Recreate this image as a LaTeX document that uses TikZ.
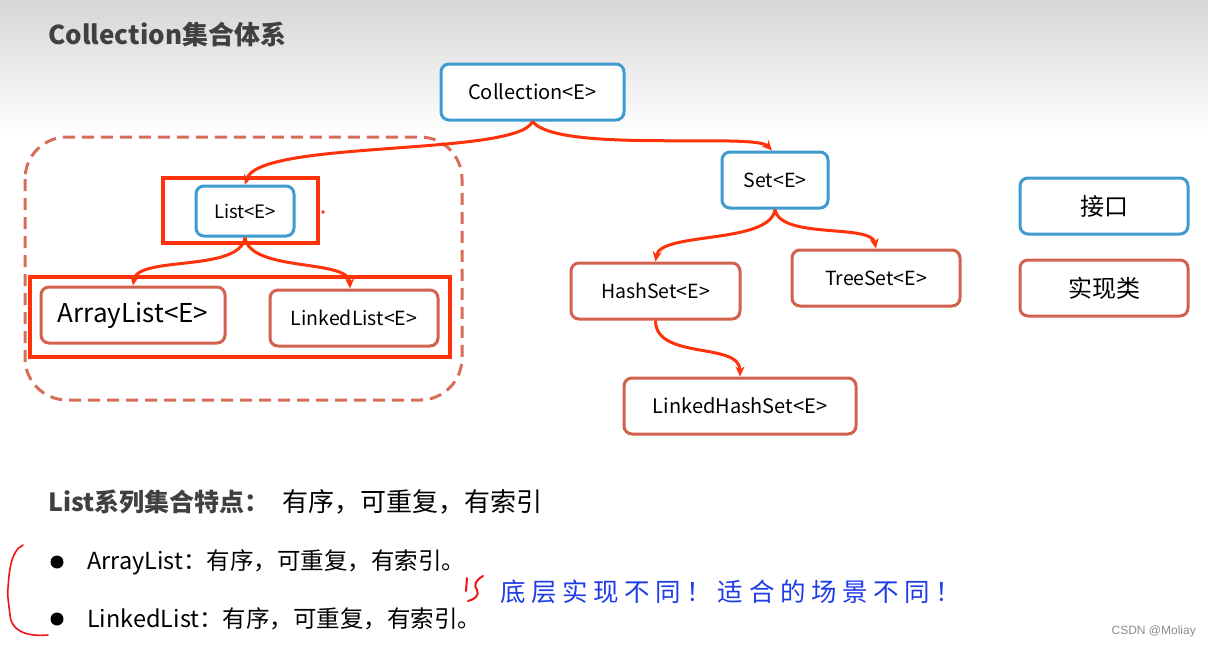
\documentclass[tikz,border=0pt]{standalone}
\usepackage{fontspec}
\setmainfont{Noto Sans CJK SC}
\newfontfamily\wmfont{Liberation Sans}
\usetikzlibrary{arrows.meta,calc}
\definecolor{ifblue}{RGB}{62,155,208}
\definecolor{imred}{RGB}{210,98,78}
\definecolor{dashred}{RGB}{215,110,90}
\definecolor{hlred}{RGB}{255,50,10}
\definecolor{titlegray}{RGB}{64,64,64}
\definecolor{handblue}{RGB}{30,60,230}
\definecolor{handred}{RGB}{240,20,20}
\newcommand\myfs[1]{\fontsize{#1}{#1}\selectfont}
\begin{document}
\begin{tikzpicture}[x=1pt,y=-1pt,
  boxbase/.style={line width=3pt, rounded corners=8pt, fill=white, inner sep=0pt, text=black, minimum height=56pt},
  iface/.style={boxbase, draw=ifblue},
  impl/.style={boxbase, draw=imred},
  arr/.style={draw=hlred, line width=3pt, -{Stealth[length=10pt,width=9pt]}},
  hlbox/.style={draw=hlred, line width=4.5pt},
  dframe/.style={draw=dashred, line width=3pt, rounded corners=42pt, dash pattern=on 12pt off 7pt},
  plain/.style={inner sep=0pt, text=black}
]
\useasboundingbox (0,0) rectangle (1208,646);
\fill[white] (0,0) rectangle (1208,646);
\shade[top color=black!16, bottom color=white] (0,0) rectangle (1208,135);

% title
\node[plain, anchor=west, text=titlegray, font=\bfseries\myfs{26}] (title) at (48,34) {Collection集合体系};

% dashed frame and highlight rectangles
\draw[dframe] (25,137) rectangle (462,400);
\draw[hlbox] (163,178) rectangle (318,243);
\draw[hlbox] (30,277) rectangle (450,357);
\fill[hlred] (323,212) circle (1.8);

% nodes
\node[iface, minimum width=183pt, font=\myfs{20}] (coll) at (532.5,92) {Collection<E>};
\node[iface, minimum width=98pt, minimum height=50pt, font=\myfs{18.5}] (list) at (245,211) {List<E>};
\node[impl, minimum width=184pt, font=\myfs{26}] (al) at (133,315) {ArrayList<E>};
\node[impl, minimum width=168pt, font=\myfs{19.5}] (ll) at (354,318) {LinkedList<E>};
\node[iface, minimum width=106pt, font=\myfs{19.5}] (set) at (775,180) {Set<E>};
\node[impl, minimum width=169pt, font=\myfs{19.5}] (hs) at (655.5,291) {HashSet<E>};
\node[impl, minimum width=168pt, font=\myfs{19.5}] (ts) at (876,278) {TreeSet<E>};
\node[impl, minimum width=232pt, font=\myfs{20}] (lhs) at (740,406) {LinkedHashSet<E>};
\node[iface, minimum width=168pt, font=\myfs{24}] (leg1) at (1104,206) {接口};
\node[impl, minimum width=168pt, font=\myfs{24}] (leg2) at (1104,288) {实现类};

% connectors
\draw[arr] (coll.south) .. controls ($(coll.south)+(-15,35)$) and ($(list.north)+(15,-45)$) .. (list.north);
\draw[arr] (coll.south) .. controls ($(coll.south)+(25,32)$) and ($(set.north)+(-20,-18)$) .. ($(set.north)+(-3,0)$);
\draw[arr] (list.south) .. controls ($(list.south)+(-5,35)$) and ($(al.north)+(5,-30)$) .. (al.north);
\draw[arr] (list.south) .. controls ($(list.south)+(5,35)$) and ($(ll.north)+(-5,-30)$) .. ($(ll.north)+(-4,0)$);
\draw[arr] (set.south) .. controls ($(set.south)+(-5,35)$) and ($(hs.north)+(5,-30)$) .. (hs.north);
\draw[arr] (set.south) .. controls ($(set.south)+(5,30)$) and ($(ts.north)+(-5,-25)$) .. (ts.north);
\draw[arr] (hs.south) .. controls ($(hs.south)+(0,40)$) and ($(lhs.north)+(0,-35)$) .. (lhs.north);

% bottom text
\node[plain, anchor=west, text=titlegray, font=\bfseries\myfs{25}] (feat) at (48,502) {List系列集合特点：};
\node[plain, anchor=west, font=\myfs{26}] (featv) at (282,502) {有序，可重复，有索引};
\fill[black] (57,562) circle (6.5);
\fill[black] (57,619) circle (6.5);
\node[plain, anchor=west, font=\myfs{23.5}] (b1) at (87,562) {ArrayList：有序，可重复，有索引。};
\node[plain, anchor=west, font=\myfs{23.5}] (b2) at (87,619) {LinkedList：有序，可重复，有索引。};

% handwriting
\draw[handred, line width=1.6pt, line cap=round, line join=round]
  (23,545) .. controls (10,551) and (9,575) .. (8,588)
  .. controls (7,595) and (9,605) .. (10,615)
  .. controls (11,630) and (25,637) .. (48,635);
\draw[handred, line width=2pt, line cap=round] (467,578) -- (466,591);
\draw[handred, line width=2pt, line cap=round, line join=round]
  (483,576) .. controls (476,580) and (473,585) .. (477,590) .. controls (480,595) and (474,600) .. (468,601);
\node[plain, anchor=west, text=handblue, font=\myfs{25.5}\addfontfeature{LetterSpace=22}] (hand) at (500,592) {底层实现不同！适合的场景不同！};

% watermark
\node[plain, anchor=east, text=black!45, font=\wmfont\myfs{12}] (wm) at (1196,631) {CSDN @Moliay};
\end{tikzpicture}
\end{document}
